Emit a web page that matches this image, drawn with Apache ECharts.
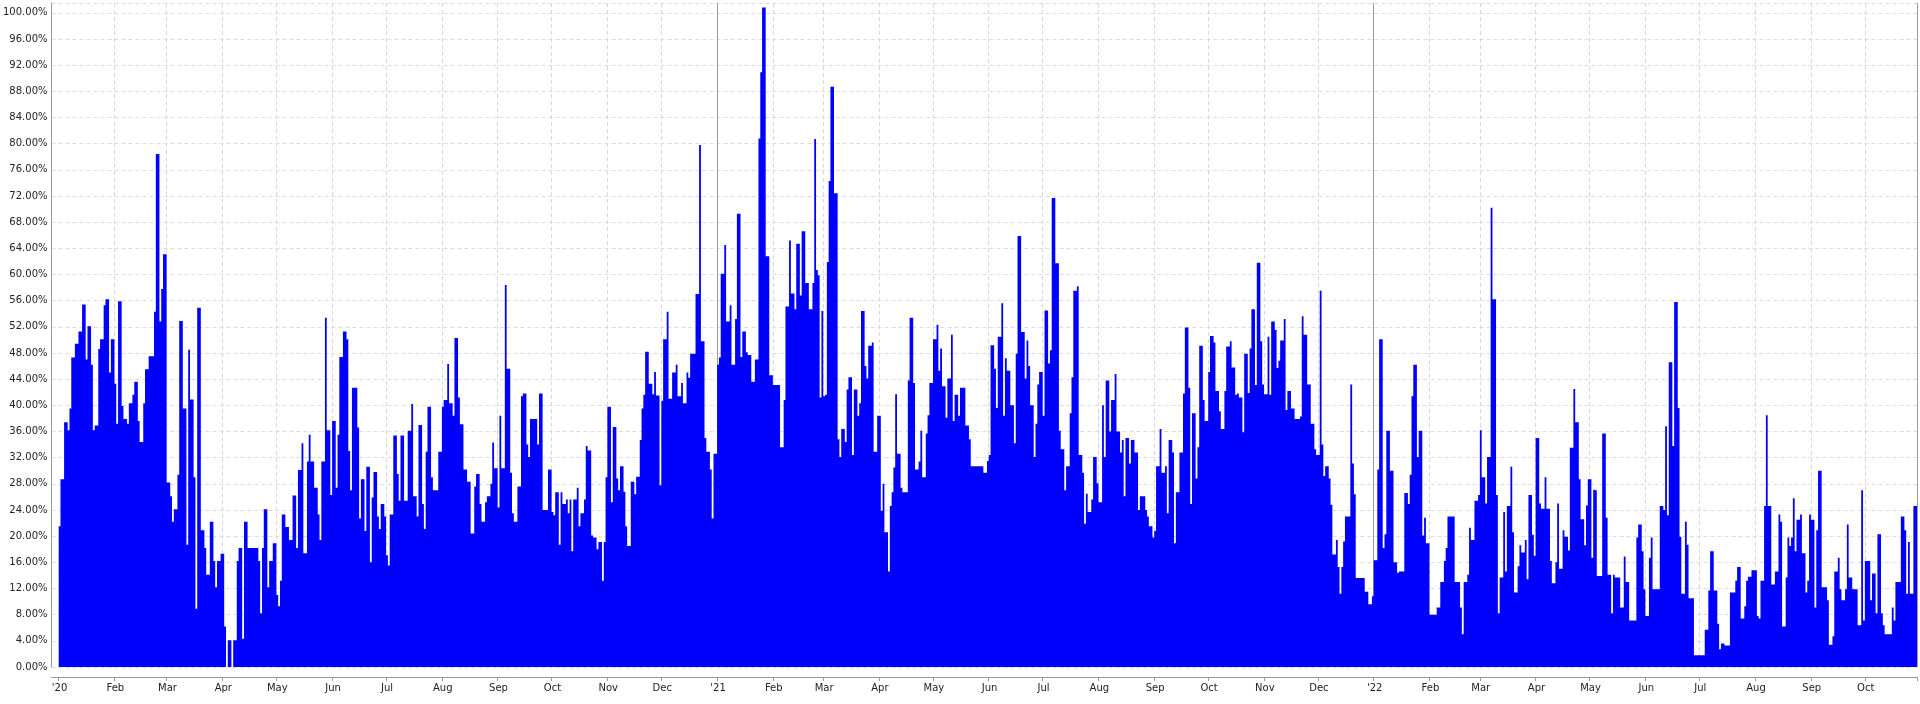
<!DOCTYPE html>
<html><head><meta charset="utf-8">
<script src="https://cdn.jsdelivr.net/npm/echarts@6/dist/echarts.min.js"></script>
<style>html,body{margin:0;padding:0;background:#fff}#c{width:1920px;height:704px}</style>
</head><body><div id="c"></div>
<script>
// daily values (%), one array per month
const jan2020=[21.5,28.7,28.7,37.4,37.4,36.2,39.5,47.3,47.3,49.4,49.4,51.3,51.3,55.4,55.4,47.0,52.1,52.1,46.2,36.2,36.9,36.9,48.6,50.1,50.1,55.3,56.2,56.2,45.0,50.1,50.1];
const feb2020=[43.3,37.2,55.9,55.9,39.9,37.9,37.9,37.2,40.3,40.3,41.6,43.6,43.6,37.6,34.4,34.4,40.3,45.5,45.5,47.5,47.5,47.5,54.3,78.4,78.4,52.8,57.8,63.1,63.1];
const mar2020=[28.2,28.2,26.1,22.2,24.1,24.1,29.4,52.9,52.9,39.5,39.5,18.7,48.5,40.9,40.9,29.0,8.9,54.9,54.9,20.9,20.9,18.2,14.1,14.1,22.2,22.2,16.2,12.2,16.2,16.2,17.3];
const apr2020=[17.3,6.2,0,4.1,4.1,0,4.1,4.1,16.2,18.2,18.2,4.3,22.2,22.2,18.2,18.2,18.2,18.2,18.2,18.2,16.2,8.2,18.2,24.1,24.1,12.2,16.2,16.2,18.9,18.9];
const may2020=[11.0,9.3,13.2,23.3,23.3,21.4,21.4,19.4,19.4,26.2,26.2,18.2,30.1,30.1,34.2,17.4,17.4,31.4,35.5,31.4,31.4,27.4,27.4,23.3,19.4,31.4,31.4,53.4,36.2,36.2,26.3];
const jun2020=[37.6,37.6,27.4,35.5,47.4,47.4,51.3,51.3,50.1,33.0,27.0,42.7,42.7,42.7,36.6,22.7,28.7,28.7,20.8,30.6,30.6,16.0,25.9,29.8,29.8,23.0,21.1,24.9,24.9,23.0];
const jul2020=[17.1,15.5,23.3,23.3,35.4,35.4,29.5,25.4,35.4,35.4,25.4,25.4,36.1,36.1,40.2,26.1,26.1,23.0,37.0,37.0,24.9,21.1,32.9,39.8,39.8,29.0,27.0,27.0,27.0,32.9,32.9];
const aug2020=[39.8,40.8,40.8,46.3,40.3,40.3,38.4,50.3,50.3,41.2,37.1,37.1,30.2,30.2,28.3,28.3,20.4,20.4,27.6,29.5,29.5,24.9,22.2,22.2,25.2,26.1,26.1,28.0,34.3,30.4,30.4];
const sep2020=[24.4,38.4,30.4,30.4,58.4,45.6,45.6,29.7,23.5,22.2,22.2,27.6,27.6,41.4,41.8,41.8,34.0,32.1,37.9,37.9,37.9,37.9,34.0,41.8,41.8,24.0,24.0,24.0,30.2,30.2];
const oct2020=[23.7,23.2,26.7,26.7,18.7,26.7,24.9,24.9,25.6,23.5,25.6,17.7,25.6,25.6,27.4,21.5,23.5,23.5,25.6,33.8,33.1,33.1,20.1,19.8,19.8,18.0,19.1,19.1,13.2,19.1,29.0];
const nov2020=[39.8,39.8,25.2,36.7,36.7,28.8,27.0,30.7,30.7,26.8,21.5,18.5,18.5,28.3,28.3,26.4,29.1,29.1,34.7,39.5,41.6,48.2,48.2,43.3,43.3,41.7,45.1,41.5,41.5,27.8];
const dec2020=[40.7,50.1,50.1,54.3,41.0,41.0,45.0,45.0,46.2,41.4,41.4,43.4,40.3,40.3,45.0,44.2,47.9,47.9,47.9,57.0,57.0,79.8,49.8,49.8,35.0,32.9,32.9,30.2,22.7,32.6,32.6];
const jan2021=[46.2,47.3,60.1,60.1,64.5,52.8,52.8,55.3,46.2,46.2,53.2,69.3,69.3,47.4,51.3,51.3,48.1,47.7,47.7,43.6,43.6,47.0,47.0,80.8,90.9,100.8,100.8,62.8,62.8,44.6,44.6];
const feb2021=[43.1,43.1,43.1,43.1,33.6,33.6,40.8,55.1,55.1,65.2,57.1,57.1,54.7,64.7,64.7,56.8,66.6,66.6,58.7,58.7,54.7,54.7,58.7,80.7,60.7,59.9,41.2,54.4];
const mar2021=[41.4,41.6,61.9,74.3,88.7,88.7,72.4,72.4,34.8,32.1,36.4,36.4,34.4,42.4,44.3,44.3,32.4,42.4,42.4,38.4,40.3,54.4,54.4,46.0,44.1,49.1,49.1,49.6,32.9,32.9,38.4];
const apr2021=[38.4,23.9,28.0,20.6,20.6,14.6,24.6,26.7,30.5,41.7,32.6,32.6,27.4,26.7,26.7,26.7,43.8,53.4,53.4,43.4,30.2,30.2,31.4,36.1,29.0,29.0,35.7,38.5,43.4,43.4];
const may2021=[50.1,50.1,52.3,45.3,48.7,42.9,42.9,38.1,44.1,44.1,50.8,37.6,41.6,41.6,38.4,42.7,42.7,42.7,36.9,36.9,34.8,30.7,30.7,30.7,30.7,30.7,30.7,30.7,29.7,29.7,31.5];
const jun2021=[32.4,49.2,49.2,45.6,39.6,50.5,50.5,55.6,38.4,47.2,45.3,45.3,40.0,40.0,34.2,47.9,65.9,65.9,51.2,51.2,44.1,49.9,46.0,40.0,40.0,32.1,37.2,43.2,45.1,45.1];
const jul2021=[38.4,54.5,54.5,46.4,48.4,71.7,71.7,61.7,61.7,36.1,33.3,33.3,27.0,30.7,30.7,38.8,44.3,57.5,57.5,58.2,32.4,32.4,29.7,21.9,26.5,23.7,23.7,25.6,32.1,32.1,28.1];
const aug2021=[25.2,25.2,40.0,32.1,43.8,43.8,36.0,40.8,40.8,44.8,36.0,36.0,32.8,34.7,26.1,35.0,35.0,31.1,34.7,34.7,32.8,32.8,24.0,26.1,26.1,26.1,24.0,23.0,21.5,21.5,19.8];
const sep2021=[20.8,30.7,30.7,36.4,29.7,29.7,30.7,23.5,34.7,34.7,32.8,18.9,26.7,26.7,32.8,32.8,41.8,51.9,51.9,42.7,24.9,38.8,38.8,28.8,33.6,49.1,49.1,40.8,37.6,37.6];
const oct2021=[45.1,50.6,50.6,49.6,42.2,42.2,39.1,36.4,36.4,42.2,49.0,49.0,49.8,45.8,45.8,41.6,41.8,41.2,41.2,35.9,47.9,47.9,41.9,48.7,54.7,54.7,43.1,61.8,61.8,49.8,43.2];
const nov2021=[41.7,41.7,50.5,41.6,52.8,52.8,51.5,45.7,46.8,49.9,49.9,53.2,39.3,42.2,42.2,39.5,39.5,37.9,37.9,37.9,38.3,53.6,50.8,50.8,43.2,43.2,37.2,37.2,33.3,32.4];
const dec2021=[32.4,57.5,34.0,29.2,30.7,30.7,28.8,24.8,17.2,17.2,19.4,15.3,11.2,15.3,19.2,23.0,23.0,23.0,43.2,31.1,26.4,13.6,13.6,13.6,13.6,13.6,11.5,11.5,9.6,9.6,10.8];
const jan2022=[16.3,16.3,30.2,50.1,50.1,18.2,20.3,36.1,36.1,30.0,30.0,16.0,16.0,14.4,14.6,14.6,14.6,26.6,26.6,24.9,29.4,41.4,46.2,46.2,32.1,36.1,36.1,20.1,22.8,18.9,18.9];
const feb2022=[8.0,8.0,8.0,8.0,9.1,9.1,13.0,13.0,16.2,18.2,23.0,23.0,23.0,23.0,13.0,13.0,13.0,9.1,5.0,13.0,13.0,14.1,21.3,19.4,19.4,25.4,25.4,26.3];
const mar2022=[36.2,29.0,29.0,25.0,32.1,32.1,70.2,56.2,56.2,26.3,8.2,13.7,13.7,23.7,14.6,24.6,24.6,30.6,20.6,11.4,11.4,15.4,18.6,17.5,17.5,19.4,13.4,26.3,26.3,20.2,17.0];
const apr2022=[35.0,35.0,25.0,24.2,24.2,29.0,24.2,24.2,16.2,12.8,12.8,16.0,25.0,15.0,15.0,20.9,19.9,19.9,17.8,33.5,33.5,42.5,37.4,37.4,28.7,22.6,22.6,18.6,24.7,28.7];
const may2022=[28.7,16.7,27.1,27.0,13.9,13.9,13.9,35.7,35.7,22.8,14.1,14.1,8.2,14.1,13.7,13.7,13.7,9.1,9.1,16.9,13.0,13.0,7.1,7.1,7.1,7.1,19.8,21.8,21.8,17.7,11.9];
const jun2022=[7.8,7.8,16.7,19.8,11.9,11.9,11.9,11.9,24.6,24.6,24.0,36.8,23.2,46.6,46.6,33.8,55.8,55.8,39.6,19.9,11.2,11.2,22.2,18.7,10.5,10.5,10.5,1.8,1.8,1.8];
const jul2022=[1.8,1.8,1.8,5.7,5.7,11.7,17.7,17.7,11.7,11.7,6.6,2.7,3.6,3.6,3.3,3.3,3.3,11.4,11.4,11.4,13.2,15.3,15.3,7.4,7.4,9.3,13.2,13.8,13.8,14.8,14.8];
const aug2022=[14.8,7.8,7.4,13.2,13.2,24.6,38.5,24.6,24.6,12.6,12.6,14.6,14.6,23.3,22.2,6.2,6.2,13.7,19.8,18.5,19.8,25.8,17.7,22.5,22.5,23.3,17.4,17.4,11.4,13.2,23.3];
const sep2022=[22.5,22.5,9.1,20.9,30.0,30.0,12.2,12.2,12.2,10.2,3.4,3.4,4.7,14.6,14.6,16.7,11.9,10.2,10.2,11.9,21.8,13.7,13.7,11.9,11.9,11.9,6.4,6.4,27.0,7.1];
const oct2022=[16.2,16.2,16.2,10.2,14.3,14.3,8.2,20.3,20.3,8.2,6.4,5.0,5.0,5.0,5.0,9.1,7.1,13.0,13.0,13.0,23.0,23.0,20.9,11.2,19.1,11.2,11.2,24.6,24.6];

const monthNames=['Jan','Feb','Mar','Apr','May','Jun','Jul','Aug','Sep','Oct','Nov','Dec'];
const padDays=['2019-12-28','2019-12-29','2019-12-30','2019-12-31'];
const monthSeries=[
 [2020,1,jan2020],[2020,2,feb2020],[2020,3,mar2020],[2020,4,apr2020],[2020,5,may2020],[2020,6,jun2020],
 [2020,7,jul2020],[2020,8,aug2020],[2020,9,sep2020],[2020,10,oct2020],[2020,11,nov2020],[2020,12,dec2020],
 [2021,1,jan2021],[2021,2,feb2021],[2021,3,mar2021],[2021,4,apr2021],[2021,5,may2021],[2021,6,jun2021],
 [2021,7,jul2021],[2021,8,aug2021],[2021,9,sep2021],[2021,10,oct2021],[2021,11,nov2021],[2021,12,dec2021],
 [2022,1,jan2022],[2022,2,feb2022],[2022,3,mar2022],[2022,4,apr2022],[2022,5,may2022],[2022,6,jun2022],
 [2022,7,jul2022],[2022,8,aug2022],[2022,9,sep2022],[2022,10,oct2022]
];
const p2=n=>(n<10?'0':'')+n;
const dates=[],values=[];
padDays.forEach(d=>{dates.push(d);values.push(null);});
monthSeries.forEach(([y,m,arr])=>arr.forEach((v,i)=>{dates.push(y+'-'+p2(m)+'-'+p2(i+1));values.push(v);}));

const isMonthStart=(i,v)=>v.slice(8)==='01';
const font='DejaVu Sans';
const chart=echarts.init(document.getElementById('c'),null,{renderer:'canvas'});
chart.setOption({
  animation:false,
  backgroundColor:'#fff',
  grid:{left:49,right:3,top:3,bottom:37,containLabel:false},
  xAxis:[{
    type:'category',data:dates,boundaryGap:true,offset:10,
    axisLine:{onZero:false,lineStyle:{color:'#999',width:1}},
    axisTick:{show:true,interval:isMonthStart,length:4,lineStyle:{color:'#999'}},
    axisLabel:{interval:isMonthStart,color:'#222',fontFamily:font,fontSize:10,margin:6,
      formatter:v=>{const m=+v.slice(5,7);return m===1?"'"+v.slice(2,4):monthNames[m-1];}},
    splitLine:{show:true,interval:(i,v)=>v.slice(8)==='01'&&v.slice(5,7)!=='01',lineStyle:{color:'#d8d8d8',type:[4,3],width:1}}
  },{
    type:'category',data:dates,boundaryGap:true,position:'bottom',
    axisLine:{show:false},axisTick:{show:false},axisLabel:{show:false},
    splitLine:{show:true,interval:(i,v)=>v.slice(5)==='01-01'&&v!=='2020-01-01',lineStyle:{color:'#9a9a9a',type:'solid',width:1}}
  }],
  yAxis:{
    type:'value',min:0,max:101.5,interval:4,
    axisLine:{show:true,lineStyle:{color:'#999'}},
    axisTick:{show:false},
    axisLabel:{color:'#222',fontFamily:font,fontSize:10,margin:4,showMaxLabel:false,formatter:v=>v.toFixed(2)+'%'},
    splitLine:{show:true,lineStyle:{color:'#dcdcdc',type:[4,3],width:1}}
  },
  series:[{
    type:'bar',xAxisIndex:0,data:values,barCategoryGap:'0%',barGap:'0%',
    large:true,largeThreshold:100,
    itemStyle:{color:'#0000ff'},
    emphasis:{disabled:true}
  }]
});
</script></body></html>
